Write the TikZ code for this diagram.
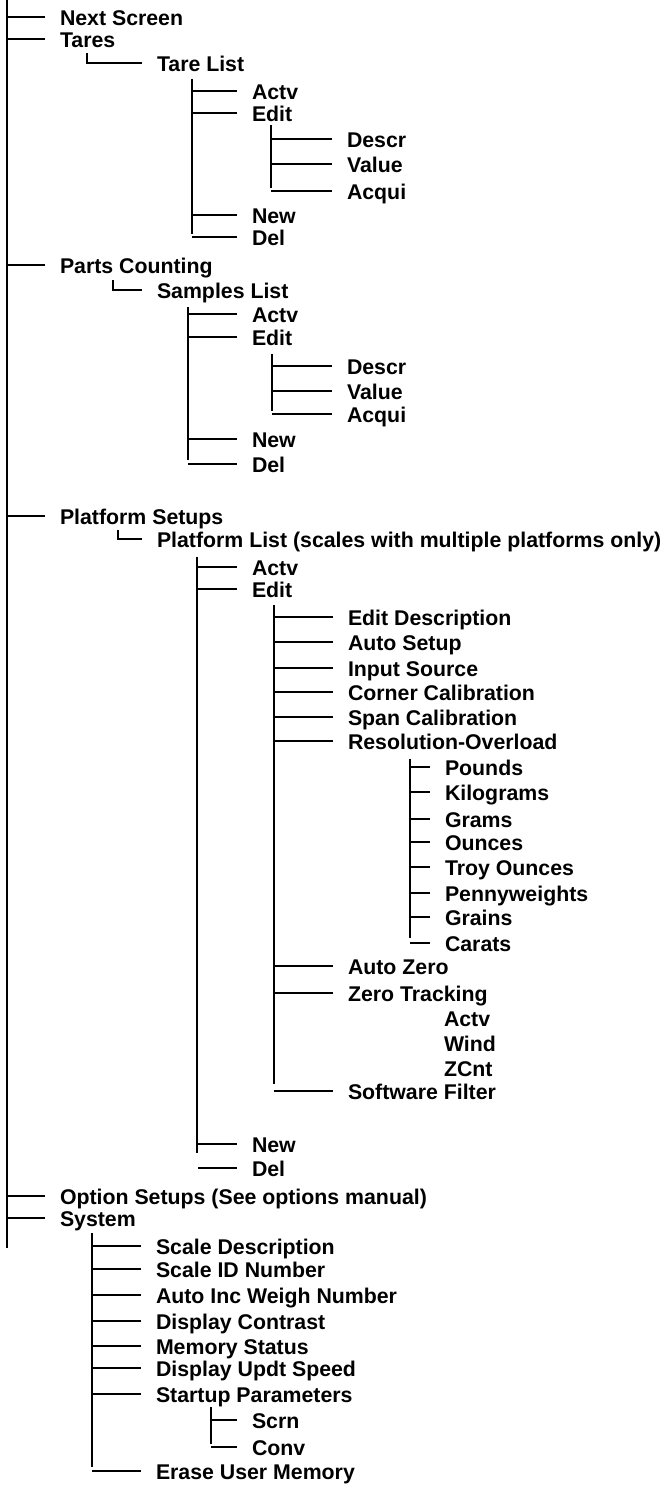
\documentclass[tikz,border=0pt]{standalone}
\usepackage{fontspec}
\setmainfont{Liberation Sans}
\usepackage{tikz}

\begin{document}
\begin{tikzpicture}[x=1pt, y=-1pt,
        item/.style={anchor=west, inner sep=0pt, outer xsep=15pt, outer ysep=0pt, text height=17pt, text depth=0pt, font=\fontsize{21.3}{25}\selectfont\bfseries},
        link/.style={draw=black, line width=2.9pt}
    ]
    \useasboundingbox (0,0) rectangle (660,1485);

    % --- main spine ---
    \coordinate (mtop) at (7,0);
    \coordinate (mbot) at (7,1248);
    \draw[link] (mtop) -- (mbot);

    \node[item] (next) at (45,17) {Next Screen};
    \node[item] (tares) at (45,39) {Tares};
    \node[item] (parts) at (45,265) {Parts Counting};
    \node[item] (plat) at (45,516) {Platform Setups};
    \node[item] (opt) at (45,1196) {Option Setups (See options manual)};
    \node[item] (sys) at (45,1218) {System};

    \draw[link] (next.west -| mtop) -- (next.west);
    \draw[link] (tares.west -| mtop) -- (tares.west);
    \draw[link] (parts.west -| mtop) -- (parts.west);
    \draw[link] (plat.west -| mtop) -- (plat.west);
    \draw[link] (opt.west -| mtop) -- (opt.west);
    \draw[link] (sys.west -| mtop) -- (sys.west);

    % --- Tares ---
    \node[item] (tlist) at (142,63) {Tare List};
    \coordinate (tel) at (87,53);
    \draw[link] (tel) |- (tlist.west);

    \coordinate (ttop) at (192,79);
    \coordinate (tbot) at (192,234);
    \draw[link] (ttop) -- (tbot);
    \node[item] (tactv) at (237,91) {Actv};
    \node[item] (tedit) at (237,113) {Edit};
    \node[item] (tnew) at (237,215) {New};
    \node[item] (tdel) at (237,237) {Del};
    \draw[link] (tactv.west -| ttop) -- (tactv.west);
    \draw[link] (tedit.west -| ttop) -- (tedit.west);
    \draw[link] (tnew.west -| ttop) -- (tnew.west);
    \draw[link] (tdel.west -| ttop) -- (tdel.west);

    \coordinate (tetop) at (271,125);
    \coordinate (tebot) at (271,188);
    \draw[link] (tetop) -- (tebot);
    \node[item] (tdescr) at (332,139) {Descr};
    \node[item] (tvalue) at (332,164) {Value};
    \node[item] (tacqui) at (332,191) {Acqui};
    \draw[link] (tdescr.west -| tetop) -- (tdescr.west);
    \draw[link] (tvalue.west -| tetop) -- (tvalue.west);
    \draw[link] (tacqui.west -| tetop) -- (tacqui.west);

    % --- Parts Counting ---
    \node[item] (slist) at (142,290) {Samples List};
    \coordinate (sel) at (113,280);
    \draw[link] (sel) |- (slist.west);

    \coordinate (stop) at (188,307);
    \coordinate (sbot) at (188,460);
    \draw[link] (stop) -- (sbot);
    \node[item] (sactv) at (237,314) {Actv};
    \node[item] (sedit) at (237,337) {Edit};
    \node[item] (snew) at (237,439) {New};
    \node[item] (sdel) at (237,464) {Del};
    \draw[link] (sactv.west -| stop) -- (sactv.west);
    \draw[link] (sedit.west -| stop) -- (sedit.west);
    \draw[link] (snew.west -| stop) -- (snew.west);
    \draw[link] (sdel.west -| stop) -- (sdel.west);

    \coordinate (setop) at (272,354);
    \coordinate (sebot) at (272,411);
    \draw[link] (setop) -- (sebot);
    \node[item] (sdescr) at (332,366) {Descr};
    \node[item] (svalue) at (332,391) {Value};
    \node[item] (sacqui) at (332,414) {Acqui};
    \draw[link] (sdescr.west -| setop) -- (sdescr.west);
    \draw[link] (svalue.west -| setop) -- (svalue.west);
    \draw[link] (sacqui.west -| setop) -- (sacqui.west);

    % --- Platform Setups ---
    \node[item] (plist) at (142,539) {Platform List (scales with multiple platforms only)};
    \coordinate (pel) at (118,530);
    \draw[link] (pel) |- (plist.west);

    \coordinate (ptop) at (197,557);
    \coordinate (pbot) at (197,1153);
    \draw[link] (ptop) -- (pbot);
    \node[item] (pactv) at (237,567) {Actv};
    \node[item] (pedit) at (237,589) {Edit};
    \node[item] (pnew) at (237,1144) {New};
    \node[item] (pdel) at (237,1168) {Del};
    \draw[link] (pactv.west -| ptop) -- (pactv.west);
    \draw[link] (pedit.west -| ptop) -- (pedit.west);
    \draw[link] (pnew.west -| ptop) -- (pnew.west);
    \draw[link] ([xshift=1pt]pdel.west -| ptop) -- (pdel.west);

    % Edit menu of a platform
    \coordinate (petop) at (274,605);
    \coordinate (pebot) at (274,1084);
    \draw[link] (petop) -- (pebot);
    \node[item] (edesc) at (333,617) {Edit Description};
    \node[item] (asetup) at (333,642) {Auto Setup};
    \node[item] (insrc) at (333,668) {Input Source};
    \node[item] (corner) at (333,692) {Corner Calibration};
    \node[item] (span) at (333,717) {Span Calibration};
    \node[item] (resol) at (333,741) {Resolution-Overload};
    \node[item] (azero) at (333,966) {Auto Zero};
    \node[item] (ztrack) at (333,993) {Zero Tracking};
    \node[item] (filter) at (333,1091) {Software Filter};
    \draw[link] (edesc.west -| petop) -- (edesc.west);
    \draw[link] (asetup.west -| petop) -- (asetup.west);
    \draw[link] (insrc.west -| petop) -- (insrc.west);
    \draw[link] (corner.west -| petop) -- (corner.west);
    \draw[link] (span.west -| petop) -- (span.west);
    \draw[link] (resol.west -| petop) -- (resol.west);
    \draw[link] (azero.west -| petop) -- (azero.west);
    \draw[link] (ztrack.west -| petop) -- (ztrack.west);
    \draw[link] (filter.west -| petop) -- (filter.west);

    % units under Resolution-Overload
    \coordinate (rtop) at (410,759);
    \coordinate (rbot) at (410,938);
    \draw[link] (rtop) -- (rbot);
    \node[item] (pounds) at (430,767) {Pounds};
    \node[item] (kilo) at (430,792) {Kilograms};
    \node[item] (grams) at (430,819) {Grams};
    \node[item] (ounces) at (430,842) {Ounces};
    \node[item] (troy) at (430,867) {Troy Ounces};
    \node[item] (penny) at (430,893) {Pennyweights};
    \node[item] (grains) at (430,917) {Grains};
    \node[item] (carats) at (430,943) {Carats};
    \draw[link] (pounds.west -| rtop) -- (pounds.west);
    \draw[link] (kilo.west -| rtop) -- (kilo.west);
    \draw[link] (grams.west -| rtop) -- (grams.west);
    \draw[link] (ounces.west -| rtop) -- (ounces.west);
    \draw[link] (troy.west -| rtop) -- (troy.west);
    \draw[link] (penny.west -| rtop) -- (penny.west);
    \draw[link] (grains.west -| rtop) -- (grains.west);
    \draw[link] (carats.west -| rtop) -- (carats.west);

    % Zero Tracking entries (no lines)
    \node[item] (zactv) at (429,1018) {Actv};
    \node[item] (zwind) at (429,1043) {Wind};
    \node[item] (zcnt) at (429,1068) {ZCnt};

    % --- System ---
    \coordinate (ytop) at (92,1233);
    \coordinate (ybot) at (92,1467);
    \draw[link] (ytop) -- (ybot);
    \node[item] (sdesc) at (141,1246) {Scale Description};
    \node[item] (sid) at (141,1269) {Scale ID Number};
    \node[item] (ainc) at (141,1295) {Auto Inc Weigh Number};
    \node[item] (dcon) at (141,1321) {Display Contrast};
    \node[item] (mem) at (141,1346) {Memory Status};
    \node[item] (dspd) at (141,1368) {Display Updt Speed};
    \node[item] (start) at (141,1394) {Startup Parameters};
    \node[item] (erase) at (141,1471) {Erase User Memory};
    \draw[link] (sdesc.west -| ytop) -- (sdesc.west);
    \draw[link] (sid.west -| ytop) -- (sid.west);
    \draw[link] (ainc.west -| ytop) -- (ainc.west);
    \draw[link] (dcon.west -| ytop) -- (dcon.west);
    \draw[link] (mem.west -| ytop) -- (mem.west);
    \draw[link] (dspd.west -| ytop) -- (dspd.west);
    \draw[link] (start.west -| ytop) -- (start.west);
    \draw[link] (erase.west -| ytop) -- (erase.west);

    % Startup Parameters
    \coordinate (utop) at (211,1407);
    \coordinate (ubot) at (211,1444);
    \draw[link] (utop) -- (ubot);
    \node[item] (scrn) at (237,1420) {Scrn};
    \node[item] (conv) at (237,1447) {Conv};
    \draw[link] (scrn.west -| utop) -- (scrn.west);
    \draw[link] (conv.west -| utop) -- (conv.west);
\end{tikzpicture}
\end{document}
